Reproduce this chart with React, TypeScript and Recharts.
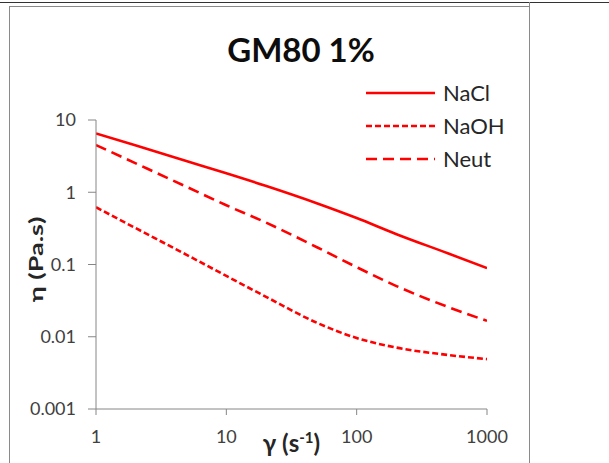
import React from 'react';
import { LineChart, Line, XAxis, YAxis, Legend } from 'recharts';

const shearRates = [1, 2, 5, 10, 20, 50, 100, 200, 500, 1000];
const naclValues = [6.5, 4.47, 2.69, 1.83, 1.23, 0.7, 0.44, 0.265, 0.143, 0.089];
const naohValues = [0.62, 0.321, 0.135, 0.0695, 0.036, 0.0155, 0.0096, 0.0071, 0.0056, 0.0049];
const neutValues = [4.5, 2.53, 1.18, 0.66, 0.383, 0.172, 0.0918, 0.0507, 0.0259, 0.0166];
const xTicks = [1, 10, 100, 1000];
const yTicks = [0.001, 0.01, 0.1, 1, 10];
const seriesNames = ['NaCl', 'NaOH', 'Neut'];
const title = 'GM80 1%';

const data = shearRates.map((x, i) => ({
  x,
  NaCl: naclValues[i],
  NaOH: naohValues[i],
  Neut: neutValues[i],
}));

const RED = '#FF0000';
const FONT = 'Lato, "Open Sans", sans-serif';
const dashes: Record<string, string | undefined> = {
  NaCl: undefined,
  NaOH: '6 3',
  Neut: '11 6',
};

const LegendContent = () => (
  <div style={{ fontFamily: FONT, position: 'absolute', left: 0, top: 0, width: 160 }}>
    {seriesNames.map((n) => (
      <div key={n} style={{ display: 'flex', alignItems: 'center', height: 33.3 }}>
        <svg width={69} height={10} style={{ display: 'block' }}>
          <line x1={0} x2={69} y1={5} y2={5} stroke={RED} strokeWidth={2.6} strokeDasharray={dashes[n]} />
        </svg>
        <span style={{ marginLeft: 8, fontSize: 22, color: '#262626', lineHeight: '22px' }}>{n}</span>
      </div>
    ))}
  </div>
);

const XLabel = (props: any) => {
  const vb = props.viewBox || {};
  const cx = vb.x + vb.width / 2;
  return (
    <text x={cx} y={452} textAnchor="middle" fontFamily={FONT} fontWeight="bold" fontSize={24} fill="#262626">
      <tspan>γ (s</tspan>
      <tspan fontSize={15} dy={-9}>-1</tspan>
      <tspan dy={9}>)</tspan>
    </text>
  );
};

const YLabel = (props: any) => {
  const vb = props.viewBox || {};
  const cy = vb.y + vb.height / 2 - 5;
  const cx = 36;
  return (
    <text
      x={0}
      y={0}
      transform={`translate(${cx},${cy}) rotate(-90) scale(1,0.72)`}
      textAnchor="middle"
      dominantBaseline="central"
      fontFamily={FONT}
      fontWeight="bold"
      fontSize={27}
      fill="#262626"
    >
      η (Pa.s)
    </text>
  );
};

export default function App() {
  return (
    <div style={{ position: 'absolute', left: 0, top: 0, width: 609, height: 463, background: '#fff', overflow: 'hidden' }}>
      <div style={{ position: 'absolute', left: 0, top: 2, width: 609, height: 0, borderTop: '1.5px solid #333' }} />
      <div style={{ position: 'absolute', left: 9, top: 6, width: 521, height: 470, border: '1.5px solid #8a8a8a', boxSizing: 'border-box' }} />
      <div style={{ position: 'absolute', left: 529, top: 2, width: 0, height: 470, borderLeft: '1.5px solid #8a8a8a' }} />
      <div style={{ position: 'absolute', left: 0, top: 0 }}>
        <LineChart width={609} height={463} data={data} margin={{ top: 120, right: 122, bottom: 0, left: 0 }}>
          <text x={301} y={62} textAnchor="middle" fontFamily={FONT} fontWeight="bold" fontSize={33} fill="#0d0d0d">
            {title}
          </text>
          <XAxis
            dataKey="x"
            type="number"
            scale="log"
            domain={[1, 1000]}
            ticks={xTicks}
            allowDataOverflow
            height={54}
            stroke="#868686"
            tickSize={6}
            tickMargin={15}
            tick={{ fill: '#404040', fontSize: 18, fontFamily: FONT }}
            label={<XLabel />}
          />
          <YAxis
            type="number"
            scale="log"
            domain={[0.001, 10]}
            ticks={yTicks}
            allowDataOverflow
            width={96}
            stroke="#868686"
            tickSize={8}
            tickMargin={12}
            tickFormatter={(v: number) => String(v)}
            tick={{ fill: '#404040', fontSize: 18, fontFamily: FONT }}
            label={<YLabel />}
          />
          <Legend
            content={<LegendContent />}
            wrapperStyle={{ position: 'absolute', left: 366, top: 76, width: 0, height: 0, overflow: 'visible' }}
          />
          {seriesNames.map((n) => (
            <Line
              key={n}
              dataKey={n}
              type="monotone"
              stroke={RED}
              strokeWidth={2.6}
              strokeDasharray={dashes[n]}
              dot={false}
              activeDot={false}
              isAnimationActive={false}
            />
          ))}
        </LineChart>
      </div>
    </div>
  );
}
